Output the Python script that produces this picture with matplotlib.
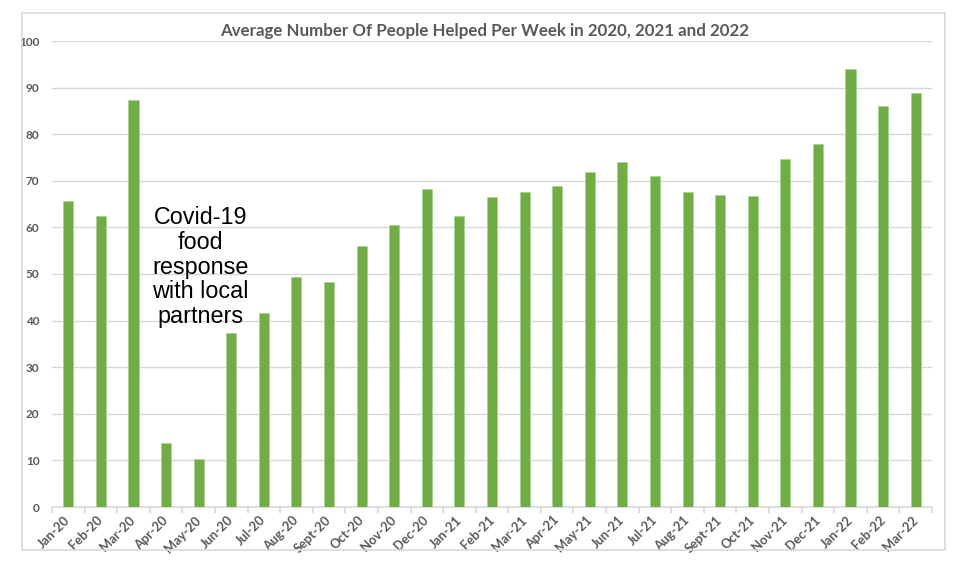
import matplotlib.pyplot as plt
from matplotlib.patches import Rectangle
import numpy as np

months = ["Jan-20", "Feb-20", "Mar-20", "Apr-20", "May-20", "Jun-20", "Jul-20",
          "Aug-20", "Sept-20", "Oct-20", "Nov-20", "Dec-20", "Jan-21", "Feb-21",
          "Mar-21", "Apr-21", "May-21", "Jun-21", "Jul-21", "Aug-21", "Sept-21",
          "Oct-21", "Nov-21", "Dec-21", "Jan-22", "Feb-22", "Mar-22"]
people = [65.6, 62.4, 87.3, 13.8, 10.2, 37.3, 41.6, 49.4, 48.3, 56.0, 60.5, 68.2,
          62.4, 66.5, 67.5, 68.8, 71.9, 74.0, 71.1, 67.5, 66.9, 66.7, 74.7, 78.0,
          94.0, 86.0, 88.8]
y_ticks = list(range(0, 101, 10))

txt_gray = "#595959"
fig = plt.figure(figsize=(9.69, 5.67), dpi=100)
fig.patch.set_facecolor("white")

# chart frame
fig.patches.append(Rectangle((22 / 969, 1 - 550 / 567), 923 / 969, 537 / 567,
                             transform=fig.transFigure, fill=False,
                             edgecolor="#D9D9D9", linewidth=1.2))

ax = fig.add_axes([52 / 969, 1 - 507 / 567, 880 / 969, 466 / 567])
x = np.arange(len(months))
ax.bar(x, people, width=0.31, color="#70AD47", edgecolor="#A9D18E", linewidth=0.5, zorder=3)

ax.set_xlim(-0.5, len(months) - 0.5)
ax.set_ylim(0, 100)
ax.set_yticks(y_ticks)
ax.grid(axis="y", color="#D9D9D9", linewidth=1, zorder=0)
for s in ["top", "right", "left"]:
    ax.spines[s].set_visible(False)
ax.spines["bottom"].set_color("#D9D9D9")
ax.spines["bottom"].set_linewidth(1.2)

ax.set_xticks(x)
ax.set_xticklabels(months, rotation=45, ha="right", va="center", rotation_mode="anchor",
                   fontsize=9.3, color=txt_gray, fontweight="bold", family="Lato")
ax.tick_params(axis="x", which="major", length=0, pad=8)
ax.set_xticks(np.arange(-0.5, len(months), 1), minor=True)
ax.tick_params(axis="x", which="minor", length=4, color="#D9D9D9", width=1.2)
ax.tick_params(axis="y", length=0, labelsize=8.5, labelcolor=txt_gray, pad=9)
for lbl in ax.get_yticklabels():
    lbl.set_fontweight("bold")
    lbl.set_family("Lato")

fig.text(0.5, 1 - 31 / 567, "Average Number Of People Helped Per Week in 2020, 2021 and 2022",
         ha="center", va="center", fontsize=12.2, fontweight="bold", color=txt_gray, family="Lato")

ax.text(4.05, 51.5, "Covid-19\nfood\nresponse\nwith local\npartners", ha="center", va="center",
        fontsize=16.8, color="black", family="Liberation Sans", linespacing=1.1, zorder=4)

fig.savefig("out.png", dpi=100)
